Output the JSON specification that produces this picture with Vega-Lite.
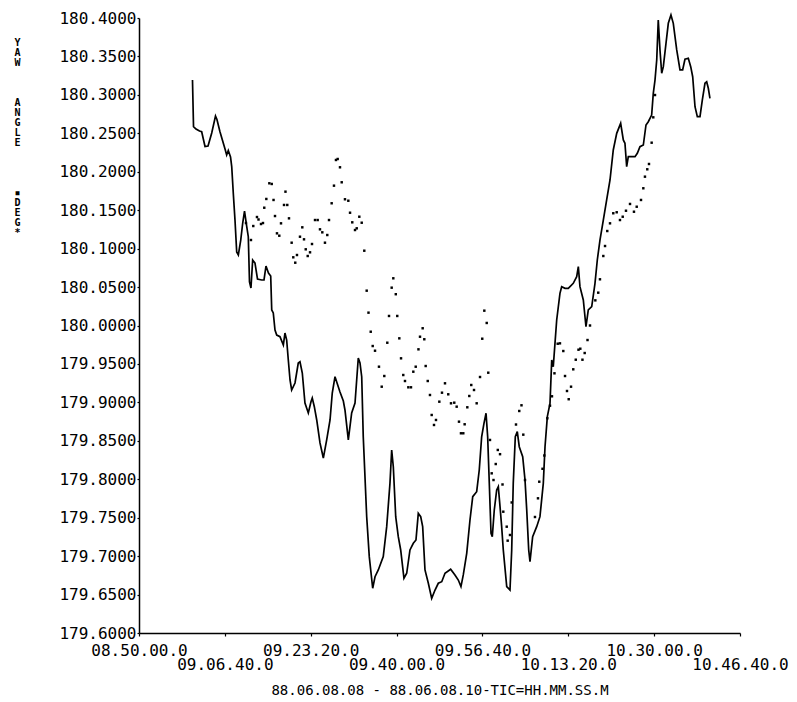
{
 "$schema": "https://vega.github.io/schema/vega-lite/v6.json",
 "width": 601,
 "height": 615,
 "autosize": {"type": "none"},
 "padding": {"left": 139, "top": 18, "right": 57, "bottom": 69},
 "background": "white",
 "view": {"stroke": null},
 "config": {"font": "DejaVu Sans Mono"},
 "datasets": {
  "yawLine": [
   {"t":"09:00:23","v":180.3193},{"t":"09:00:35","v":180.2586},{"t":"09:01:04","v":180.2556},{"t":"09:01:45","v":180.2530},{"t":"09:02:10","v":180.2521},{"t":"09:02:49","v":180.2328},{"t":"09:03:24","v":180.2335},{"t":"09:04:07","v":180.2504},{"t":"09:04:51","v":180.2725},{"t":"09:05:08","v":180.2680},{"t":"09:05:43","v":180.2521},{"t":"09:06:42","v":180.2296},{"t":"09:07:01","v":180.2218},{"t":"09:07:20","v":180.2276},{"t":"09:07:46","v":180.2192},{"t":"09:08:00","v":180.2066},{"t":"09:08:18","v":180.1724},{"t":"09:08:38","v":180.1372},{"t":"09:08:58","v":180.0956},{"t":"09:09:17","v":180.0917},{"t":"09:09:45","v":180.1112},{"t":"09:10:08","v":180.1333},{"t":"09:10:29","v":180.1489},{"t":"09:10:54","v":180.1294},{"t":"09:11:13","v":180.1155},{"t":"09:11:27","v":180.0566},{"t":"09:11:44","v":180.0488},{"t":"09:12:04","v":180.0852},{"t":"09:12:31","v":180.0813},{"t":"09:13:00","v":180.0605},{"t":"09:13:49","v":180.0592},{"t":"09:14:16","v":180.0592},{"t":"09:14:39","v":180.0774},{"t":"09:15:08","v":180.0683},{"t":"09:15:34","v":180.0644},{"t":"09:15:46","v":180.0202},{"t":"09:16:04","v":180.0163},{"t":"09:16:24","v":179.9941},{"t":"09:16:44","v":179.9876},{"t":"09:17:22","v":179.9854},{"t":"09:18:01","v":179.9746},{"t":"09:18:20","v":179.9902},{"t":"09:18:40","v":179.9811},{"t":"09:18:59","v":179.9551},{"t":"09:19:19","v":179.9291},{"t":"09:19:38","v":179.9161},{"t":"09:20:17","v":179.9252},{"t":"09:20:55","v":179.9512},{"t":"09:21:15","v":179.9529},{"t":"09:21:42","v":179.9382},{"t":"09:22:13","v":179.8992},{"t":"09:22:52","v":179.8862},{"t":"09:23:23","v":179.9009},{"t":"09:23:38","v":179.9057},{"t":"09:24:02","v":179.8944},{"t":"09:24:30","v":179.8771},{"t":"09:25:08","v":179.8472},{"t":"09:25:47","v":179.8276},{"t":"09:26:26","v":179.8511},{"t":"09:27:05","v":179.8771},{"t":"09:27:31","v":179.9122},{"t":"09:28:03","v":179.9334},{"t":"09:29:01","v":179.9135},{"t":"09:29:40","v":179.9018},{"t":"09:29:59","v":179.8901},{"t":"09:30:38","v":179.8511},{"t":"09:31:17","v":179.8862},{"t":"09:31:56","v":179.8992},{"t":"09:32:34","v":179.9577},{"t":"09:32:54","v":179.9512},{"t":"09:33:14","v":179.9334},{"t":"09:33:32","v":179.8553},{"t":"09:33:52","v":179.8033},{"t":"09:34:12","v":179.7513},{"t":"09:34:42","v":179.6993},{"t":"09:35:22","v":179.6582},{"t":"09:35:49","v":179.6732},{"t":"09:36:27","v":179.6820},{"t":"09:37:25","v":179.6993},{"t":"09:38:05","v":179.7383},{"t":"09:38:43","v":179.7947},{"t":"09:39:03","v":179.8380},{"t":"09:39:22","v":179.8163},{"t":"09:39:50","v":179.7513},{"t":"09:40:20","v":179.7253},{"t":"09:40:48","v":179.7080},{"t":"09:41:26","v":179.6712},{"t":"09:41:58","v":179.6777},{"t":"09:42:36","v":179.7080},{"t":"09:43:15","v":179.7167},{"t":"09:43:46","v":179.7210},{"t":"09:44:13","v":179.7557},{"t":"09:44:41","v":179.7513},{"t":"09:45:04","v":179.7383},{"t":"09:45:31","v":179.6820},{"t":"09:46:10","v":179.6647},{"t":"09:46:49","v":179.6451},{"t":"09:47:28","v":179.6559},{"t":"09:48:06","v":179.6647},{"t":"09:48:46","v":179.6667},{"t":"09:49:24","v":179.6777},{"t":"09:50:30","v":179.6829},{"t":"09:51:20","v":179.6755},{"t":"09:51:59","v":179.6689},{"t":"09:52:30","v":179.6603},{"t":"09:52:57","v":179.6755},{"t":"09:53:37","v":179.7037},{"t":"09:54:15","v":179.7470},{"t":"09:54:47","v":179.7773},{"t":"09:55:33","v":179.7838},{"t":"09:56:03","v":179.8120},{"t":"09:56:31","v":179.8553},{"t":"09:56:58","v":179.8728},{"t":"09:57:22","v":179.8858},{"t":"09:57:41","v":179.8553},{"t":"09:58:00","v":179.7947},{"t":"09:58:20","v":179.7297},{"t":"09:58:35","v":179.7253},{"t":"09:58:58","v":179.7600},{"t":"09:59:26","v":179.7860},{"t":"09:59:45","v":179.7903},{"t":"10:00:05","v":179.7643},{"t":"10:00:24","v":179.7383},{"t":"10:00:43","v":179.7080},{"t":"10:01:23","v":179.6603},{"t":"10:02:01","v":179.6559},{"t":"10:02:21","v":179.7080},{"t":"10:02:39","v":179.7947},{"t":"10:03:03","v":179.8553},{"t":"10:03:26","v":179.8619},{"t":"10:03:49","v":179.8423},{"t":"10:04:29","v":179.8293},{"t":"10:04:56","v":179.7990},{"t":"10:05:16","v":179.7600},{"t":"10:05:39","v":179.7080},{"t":"10:05:54","v":179.6928},{"t":"10:06:25","v":179.7253},{"t":"10:07:12","v":179.7383},{"t":"10:07:50","v":179.7513},{"t":"10:08:29","v":179.7947},{"t":"10:08:49","v":179.8423},{"t":"10:09:16","v":179.8814},{"t":"10:09:47","v":179.8988},{"t":"10:10:07","v":179.9551},{"t":"10:10:25","v":179.9464},{"t":"10:10:45","v":179.9768},{"t":"10:11:05","v":180.0072},{"t":"10:11:43","v":180.0419},{"t":"10:12:03","v":180.0505},{"t":"10:12:42","v":180.0484},{"t":"10:13:20","v":180.0484},{"t":"10:14:18","v":180.0549},{"t":"10:14:58","v":180.0635},{"t":"10:15:17","v":180.0765},{"t":"10:15:36","v":180.0505},{"t":"10:16:15","v":180.0332},{"t":"10:16:46","v":179.9984},{"t":"10:17:13","v":180.0202},{"t":"10:17:53","v":180.0245},{"t":"10:18:31","v":180.0549},{"t":"10:18:58","v":180.0852},{"t":"10:19:29","v":180.1112},{"t":"10:20:08","v":180.1372},{"t":"10:20:47","v":180.1633},{"t":"10:21:26","v":180.1893},{"t":"10:22:04","v":180.2283},{"t":"10:22:44","v":180.2500},{"t":"10:23:30","v":180.2630},{"t":"10:24:01","v":180.2413},{"t":"10:24:20","v":180.2370},{"t":"10:24:40","v":180.2066},{"t":"10:24:59","v":180.2196},{"t":"10:25:27","v":180.2196},{"t":"10:26:17","v":180.2196},{"t":"10:26:44","v":180.2240},{"t":"10:27:15","v":180.2326},{"t":"10:27:54","v":180.2348},{"t":"10:28:25","v":180.2608},{"t":"10:28:52","v":180.2651},{"t":"10:29:31","v":180.2738},{"t":"10:29:50","v":180.3020},{"t":"10:30:10","v":180.3193},{"t":"10:30:30","v":180.3454},{"t":"10:30:48","v":180.3974},{"t":"10:31:08","v":180.3584},{"t":"10:31:28","v":180.3281},{"t":"10:31:47","v":180.3367},{"t":"10:32:18","v":180.3671},{"t":"10:32:45","v":180.3931},{"t":"10:33:16","v":180.4039},{"t":"10:33:43","v":180.3931},{"t":"10:34:23","v":180.3584},{"t":"10:35:01","v":180.3324},{"t":"10:35:32","v":180.3324},{"t":"10:35:59","v":180.3463},{"t":"10:36:38","v":180.3476},{"t":"10:37:06","v":180.3367},{"t":"10:37:29","v":180.3236},{"t":"10:37:56","v":180.2846},{"t":"10:38:23","v":180.2716},{"t":"10:38:54","v":180.2716},{"t":"10:39:21","v":180.2933},{"t":"10:39:52","v":180.3151},{"t":"10:40:12","v":180.3171},{"t":"10:40:31","v":180.3086},{"t":"10:40:50","v":180.2955}
  ],
  "yawDots": [
   {"t":"09:10:46","v":180.1333},{"t":"09:11:44","v":180.1112},{"t":"09:12:11","v":180.1294},{"t":"09:12:54","v":180.1411},{"t":"09:13:12","v":180.1379},{"t":"09:13:41","v":180.1320},{"t":"09:14:04","v":180.1333},{"t":"09:14:19","v":180.1532},{"t":"09:14:43","v":180.1646},{"t":"09:15:18","v":180.1850},{"t":"09:15:46","v":180.1841},{"t":"09:16:07","v":180.1633},{"t":"09:16:24","v":180.1424},{"t":"09:16:47","v":180.1199},{"t":"09:17:14","v":180.1168},{"t":"09:17:34","v":180.1329},{"t":"09:18:09","v":180.1568},{"t":"09:18:26","v":180.1741},{"t":"09:18:47","v":180.1568},{"t":"09:19:07","v":180.1394},{"t":"09:19:38","v":180.1077},{"t":"09:19:57","v":180.0887},{"t":"09:20:20","v":180.0817},{"t":"09:20:40","v":180.0917},{"t":"09:21:15","v":180.1155},{"t":"09:21:42","v":180.1277},{"t":"09:22:02","v":180.1121},{"t":"09:22:22","v":180.0991},{"t":"09:22:45","v":180.0904},{"t":"09:23:12","v":180.0952},{"t":"09:23:35","v":180.1060},{"t":"09:24:10","v":180.1372},{"t":"09:24:41","v":180.1372},{"t":"09:25:08","v":180.1251},{"t":"09:25:35","v":180.1212},{"t":"09:26:06","v":180.1077},{"t":"09:26:33","v":180.1177},{"t":"09:26:53","v":180.1372},{"t":"09:27:24","v":180.1590},{"t":"09:27:51","v":180.1819},{"t":"09:28:14","v":180.2153},{"t":"09:28:34","v":180.2166},{"t":"09:29:01","v":180.2058},{"t":"09:29:21","v":180.1863},{"t":"09:29:59","v":180.1642},{"t":"09:30:38","v":180.1623},{"t":"09:30:58","v":180.1467},{"t":"09:31:24","v":180.1342},{"t":"09:31:56","v":180.1242},{"t":"09:32:16","v":180.1264},{"t":"09:32:46","v":180.1415},{"t":"09:33:14","v":180.1337},{"t":"09:33:44","v":180.0973},{"t":"09:34:12","v":180.0453},{"t":"09:34:33","v":180.0167},{"t":"09:34:59","v":179.9919},{"t":"09:35:22","v":179.9733},{"t":"09:35:49","v":179.9672},{"t":"09:36:35","v":179.9464},{"t":"09:37:07","v":179.9204},{"t":"09:37:37","v":179.9343},{"t":"09:38:12","v":179.9776},{"t":"09:38:32","v":180.0124},{"t":"09:39:03","v":180.0492},{"t":"09:39:22","v":180.0614},{"t":"09:39:51","v":180.0407},{"t":"09:40:08","v":180.0124},{"t":"09:40:32","v":179.9833},{"t":"09:40:52","v":179.9573},{"t":"09:41:18","v":179.9356},{"t":"09:41:38","v":179.9278},{"t":"09:42:17","v":179.9196},{"t":"09:42:48","v":179.9196},{"t":"09:43:15","v":179.9399},{"t":"09:43:43","v":179.9464},{"t":"09:44:15","v":179.9690},{"t":"09:44:33","v":179.9854},{"t":"09:45:04","v":179.9964},{"t":"09:45:23","v":179.9821},{"t":"09:45:39","v":179.9473},{"t":"09:46:03","v":179.9278},{"t":"09:46:29","v":179.9096},{"t":"09:46:49","v":179.8836},{"t":"09:47:16","v":179.8706},{"t":"09:47:39","v":179.8771},{"t":"09:48:18","v":179.9009},{"t":"09:48:49","v":179.9126},{"t":"09:49:24","v":179.9248},{"t":"09:50:02","v":179.9105},{"t":"09:50:34","v":179.8988},{"t":"09:51:12","v":179.8996},{"t":"09:51:40","v":179.8944},{"t":"09:52:07","v":179.8749},{"t":"09:52:30","v":179.8598},{"t":"09:52:57","v":179.8598},{"t":"09:53:13","v":179.8715},{"t":"09:53:44","v":179.8936},{"t":"09:54:07","v":179.9083},{"t":"09:54:30","v":179.9226},{"t":"09:55:02","v":179.9161},{"t":"09:55:33","v":179.8988},{"t":"09:56:12","v":179.9330},{"t":"09:56:38","v":179.9828},{"t":"09:57:02","v":180.0193},{"t":"09:57:30","v":180.0033},{"t":"09:57:48","v":179.9386},{"t":"09:58:08","v":179.8511},{"t":"09:58:28","v":179.8077},{"t":"09:58:49","v":179.7990},{"t":"09:59:15","v":179.8198},{"t":"09:59:39","v":179.8381},{"t":"10:00:05","v":179.8326},{"t":"10:00:34","v":179.7932},{"t":"10:00:43","v":179.7578},{"t":"10:01:23","v":179.7383},{"t":"10:01:34","v":179.7201},{"t":"10:02:01","v":179.7275},{"t":"10:02:21","v":179.7698},{"t":"10:03:11","v":179.8712},{"t":"10:03:49","v":179.8888},{"t":"10:04:15","v":179.8962},{"t":"10:04:36","v":179.8580},{"t":"10:04:56","v":179.7990},{"t":"10:06:52","v":179.7509},{"t":"10:07:27","v":179.7752},{"t":"10:07:42","v":179.7968},{"t":"10:08:20","v":179.8136},{"t":"10:08:41","v":179.8309},{"t":"10:09:16","v":179.8793},{"t":"10:09:47","v":179.8957},{"t":"10:10:10","v":179.9079},{"t":"10:10:39","v":179.9378},{"t":"10:11:17","v":179.9763},{"t":"10:11:43","v":179.9768},{"t":"10:12:22","v":179.9668},{"t":"10:12:42","v":179.9343},{"t":"10:13:05","v":179.9148},{"t":"10:13:25","v":179.9041},{"t":"10:13:52","v":179.9204},{"t":"10:14:18","v":179.9430},{"t":"10:14:47","v":179.9555},{"t":"10:15:19","v":179.9685},{"t":"10:15:40","v":179.9698},{"t":"10:16:05","v":179.9555},{"t":"10:16:31","v":179.9642},{"t":"10:17:04","v":179.9811},{"t":"10:17:33","v":180.0000},{"t":"10:18:35","v":180.0327},{"t":"10:19:09","v":180.0427},{"t":"10:19:29","v":180.0601},{"t":"10:20:08","v":180.0904},{"t":"10:20:28","v":180.1034},{"t":"10:20:54","v":180.1229},{"t":"10:21:26","v":180.1329},{"t":"10:22:04","v":180.1460},{"t":"10:22:44","v":180.1473},{"t":"10:23:22","v":180.1372},{"t":"10:23:54","v":180.1415},{"t":"10:24:32","v":180.1493},{"t":"10:25:19","v":180.1581},{"t":"10:26:05","v":180.1480},{"t":"10:26:37","v":180.1545},{"t":"10:27:27","v":180.1633},{"t":"10:27:54","v":180.1785},{"t":"10:28:13","v":180.1936},{"t":"10:28:40","v":180.2032},{"t":"10:29:00","v":180.2101},{"t":"10:29:31","v":180.2378},{"t":"10:29:50","v":180.2708},{"t":"10:30:10","v":180.2998}
  ]
 },
 "encoding": {
  "x": {
   "field": "t",
   "type": "temporal",
   "scale": {
    "type": "utc",
    "nice": false,
    "domain": [
     {"year": 1900, "month": 1, "date": 1, "hours": 8, "minutes": 50, "seconds": 0, "utc": true},
     {"year": 1900, "month": 1, "date": 1, "hours": 10, "minutes": 46, "seconds": 40, "utc": true}
    ]
   },
   "axis": {
    "values": [
     {"year": 1900, "month": 1, "date": 1, "hours": 8, "minutes": 50, "seconds": 0, "utc": true},
     {"year": 1900, "month": 1, "date": 1, "hours": 9, "minutes": 6, "seconds": 40, "utc": true},
     {"year": 1900, "month": 1, "date": 1, "hours": 9, "minutes": 23, "seconds": 20, "utc": true},
     {"year": 1900, "month": 1, "date": 1, "hours": 9, "minutes": 40, "seconds": 0, "utc": true},
     {"year": 1900, "month": 1, "date": 1, "hours": 9, "minutes": 56, "seconds": 40, "utc": true},
     {"year": 1900, "month": 1, "date": 1, "hours": 10, "minutes": 13, "seconds": 20, "utc": true},
     {"year": 1900, "month": 1, "date": 1, "hours": 10, "minutes": 30, "seconds": 0, "utc": true},
     {"year": 1900, "month": 1, "date": 1, "hours": 10, "minutes": 46, "seconds": 40, "utc": true}
    ],
    "labelExpr": "round((datum.value - utc(1900,0,1,8,50,0,0))/1000000) % 2 == 0 ? utcFormat(datum.value, '%H.%M.%S.0') : [' ', utcFormat(datum.value, '%H.%M.%S.0')]",
    "title": "88.06.08.08 - 88.06.08.10-TIC=HH.MM.SS.M",
    "grid": false,
    "domainColor": "black",
    "domainWidth": 1.5,
    "tickColor": "black",
    "tickWidth": 1.2,
    "tickSize": 3,
    "labelFont": "DejaVu Sans Mono",
    "labelFontSize": 16,
    "labelColor": "black",
    "labelBaseline": "top",
    "labelLineHeight": 14,
    "labelPadding": 6,
    "labelOverlap": false,
    "labelBound": false,
    "labelFlush": false,
    "titleFont": "DejaVu Sans Mono",
    "titleFontSize": 14,
    "titleFontWeight": "normal",
    "titleColor": "black",
    "titleY": 57,
    "titleBaseline": "middle"
   }
  },
  "y": {
   "field": "v",
   "type": "quantitative",
   "scale": {"domain": [179.6, 180.4], "nice": false, "zero": false},
   "axis": {
    "values": [179.6,179.65,179.7,179.75,179.8,179.85,179.9,179.95,180,180.05,180.1,180.15,180.2,180.25,180.3,180.35,180.4],
    "format": ".4f",
    "title": ["Y","A","W","\u200b","\u200b","\u200b","A","N","G","L","E","\u200b","\u200b","\u200b","\u200b","▪","D","E","G","*"],
    "titleAngle": 0,
    "titleX": -122,
    "titleY": 19,
    "titleAlign": "center",
    "titleBaseline": "top",
    "titleLineHeight": 10,
    "titleFont": "DejaVu Sans Mono",
    "titleFontSize": 10,
    "titleFontWeight": "bold",
    "titleColor": "black",
    "grid": false,
    "domainColor": "black",
    "domainWidth": 1.5,
    "tickColor": "black",
    "tickWidth": 1.2,
    "tickSize": 2,
    "labelFont": "DejaVu Sans Mono",
    "labelFontSize": 16,
    "labelColor": "black",
    "labelPadding": 1,
    "labelOverlap": false,
    "labelBound": false,
    "labelFlush": false
   }
  }
 },
 "layer": [
  {
   "data": {"name": "yawLine", "format": {"parse": {"t": "utc:'%H:%M:%S'"}}},
   "mark": {"type": "line", "color": "black", "strokeWidth": 1.7, "clip": false}
  },
  {
   "data": {"name": "yawDots", "format": {"parse": {"t": "utc:'%H:%M:%S'"}}},
   "mark": {"type": "square", "color": "black", "filled": true, "opacity": 1, "size": 6}
  }
 ]
}
